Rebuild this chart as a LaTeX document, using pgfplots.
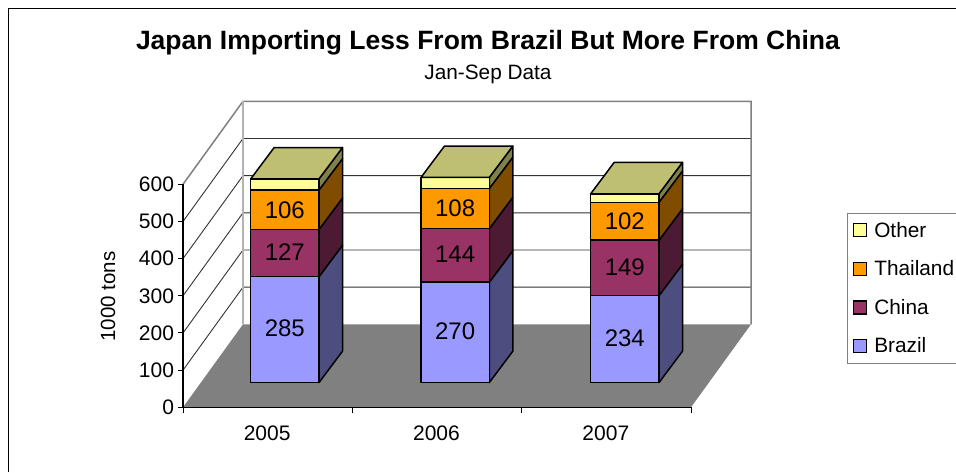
\documentclass[border=0pt]{standalone}
\usepackage{pgfplots}
\pgfplotsset{compat=1.18}
\usepackage{fontspec}
\setmainfont{Liberation Sans}
\definecolor{brf}{HTML}{9999FF}\definecolor{brs}{HTML}{4D4D80}
\definecolor{chf}{HTML}{993366}\definecolor{chs}{HTML}{4D1A33}
\definecolor{thf}{HTML}{FF9900}\definecolor{ths}{HTML}{804D00}
\definecolor{otf}{HTML}{FFFF99}\definecolor{ots}{HTML}{80804D}
\definecolor{ott}{HTML}{BFBF73}
\definecolor{wallg}{HTML}{808080}
\newcommand\seg[5]{% x, lo, hi, front, side
  \addplot[forget plot,draw=black,line width=1.5pt,line join=round,fill=#5] coordinates
    {(#1+68.3,{66.5+#2}) (#1+91.8,{66.5+#2+84.5}) (#1+91.8,{66.5+#3+84.5}) (#1+68.3,{66.5+#3})} -- cycle;
  \addplot[forget plot,draw=black,line width=1.5pt,line join=round,fill=#4] coordinates
    {(#1,{66.5+#2}) (#1+68.3,{66.5+#2}) (#1+68.3,{66.5+#3}) (#1,{66.5+#3})} -- cycle;
}
\newcommand\stackbar[5]{% x, Brazil, China, Thailand, Other
  \seg{#1}{0}{#2}{brf}{brs}
  \seg{#1}{#2}{#2+#3}{chf}{chs}
  \seg{#1}{#2+#3}{#2+#3+#4}{thf}{ths}
  \seg{#1}{#2+#3+#4}{#2+#3+#4+#5}{otf}{ots}
  \addplot[forget plot,draw=black,line width=1.5pt,line join=round,fill=ott] coordinates
    {(#1,{66.5+#2+#3+#4+#5}) (#1+68.3,{66.5+#2+#3+#4+#5}) (#1+91.8,{66.5+#2+#3+#4+#5+84.5}) (#1+23.5,{66.5+#2+#3+#4+#5+84.5})} -- cycle;
  \node[font=\fontsize{24}{28}\selectfont,yshift=1pt] at (axis cs:{#1+34.1},{66.5+#2/2}) {#2};
  \node[font=\fontsize{24}{28}\selectfont,yshift=1pt] at (axis cs:{#1+34.1},{66.5+#2+#3/2}) {#3};
  \node[font=\fontsize{24}{28}\selectfont,yshift=0pt] at (axis cs:{#1+34.1},{66.5+#2+#3+#4/2}) {#4};
}
\begin{document}
\begin{tikzpicture}[x=1pt,y=1pt]
\path[use as bounding box,fill=white] (0,0) rectangle (956,472);
\draw[black,line width=1.2pt] (8.5,0) -- (8.5,463.7) -- (956,463.7);
\begin{axis}[
  at={(183pt,64.7pt)},anchor=south west,
  scale only axis,width=508pt,height=223pt,
  xmin=0,xmax=508,ymin=0,ymax=600,
  clip=false,axis on top,
  axis x line*=bottom,axis y line*=left,
  axis line style={black,line width=1.3pt,-},
  tick style={black,line width=1pt},
  major tick length=5.5pt,tick align=outside,
  xtick={0,169.33,338.67,508},
  x tick label as interval,
  xticklabels={2005,2006,2007},
  ytick={0,100,200,300,400,500,600},
  tick label style={font=\fontsize{21}{24}\selectfont},
  /pgf/number format/assume math mode=true,
  x tick label style={yshift=-10pt,xshift=-0.5pt},
  ylabel={1000 tons},
  every axis y label/.style={at={(axis cs:-75,298)},rotate=90,anchor=center,font=\fontsize{20.5}{24}\selectfont},
  title={\fontsize{26.5}{31}\selectfont\textbf{Japan Importing Less From Brazil But More From China}\\[9pt]\fontsize{20.8}{22}\selectfont Jan-Sep Data},
  every axis title/.style={at={(axis cs:305,942)},anchor=center,align=center},
  legend style={at={(axis cs:663.5,524)},anchor=north west,draw=wallg,line width=1pt,
    font=\fontsize{20.8}{24}\selectfont,row sep=18pt,inner xsep=6pt,inner ysep=7pt,
    /tikz/column sep=5pt,cells={anchor=west}},
  legend cell align=left,
  legend image code/.code={\draw[#1] (0pt,-6.5pt) rectangle (13pt,6.5pt);},
]
% back wall and side wall grid
\addplot[forget plot,draw=none,fill=wallg] coordinates {(0,0) (508,0) (568,223.3) (60,223.3)} -- cycle;
\addplot[forget plot,draw=black!80,line width=0.9pt] coordinates {(0,100) (60,323.3) (568,323.3)};
\addplot[forget plot,draw=black!80,line width=0.9pt] coordinates {(0,200) (60,423.3) (568,423.3)};
\addplot[forget plot,draw=black!80,line width=0.9pt] coordinates {(0,300) (60,523.3) (568,523.3)};
\addplot[forget plot,draw=black!80,line width=0.9pt] coordinates {(0,400) (60,623.3) (568,623.3)};
\addplot[forget plot,draw=black!80,line width=0.9pt] coordinates {(0,500) (60,723.3) (568,723.3)};
\addplot[forget plot,draw=wallg,line width=1.5pt] coordinates {(0,600) (60,823.3) (568,823.3) (568,223.3)};
\addplot[forget plot,draw=wallg!60,line width=2pt] coordinates {(60,223.3) (60,823.3)};
% stacked bars: Brazil, China, Thailand, Other
\stackbar{67.7}{285}{127}{106}{30}
\stackbar{238}{270}{144}{108}{30}
\stackbar{407.7}{234}{149}{102}{23}
% legend
\addlegendimage{draw=black,line width=1.3pt,fill=otf}\addlegendentry{Other}
\addlegendimage{draw=black,line width=1.3pt,fill=thf}\addlegendentry{Thailand\hspace*{12pt}}
\addlegendimage{draw=black,line width=1.3pt,fill=chf}\addlegendentry{China}
\addlegendimage{draw=black,line width=1.3pt,fill=brf}\addlegendentry{Brazil}
\end{axis}
\end{tikzpicture}
\end{document}
